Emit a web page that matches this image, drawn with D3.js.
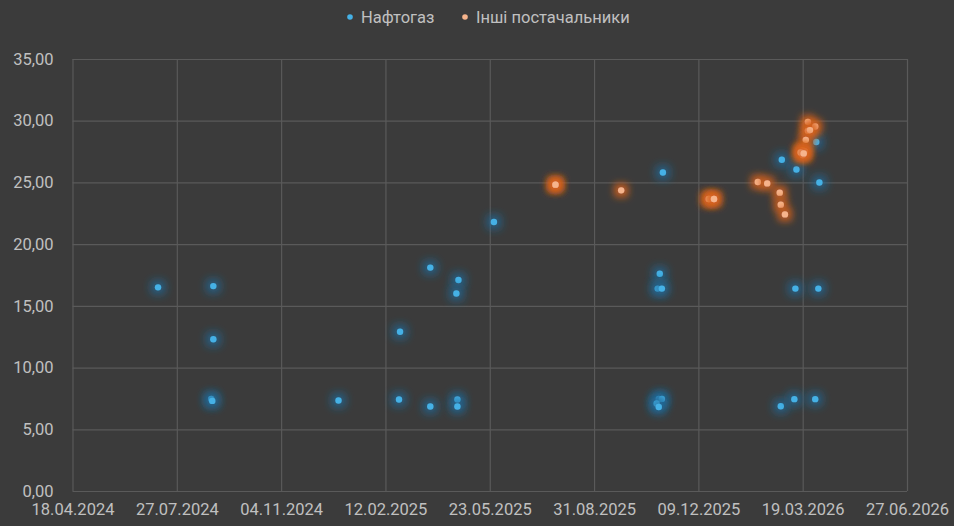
<!DOCTYPE html>
<html>
<head>
<meta charset="utf-8">
<script src="https://cdn.jsdelivr.net/npm/d3@7"></script>
<style>
  html, body { margin: 0; padding: 0; background: #3b3b3b; }
  svg { display: block; }
  text { font-family: Roboto, "Noto Sans", sans-serif; fill: #c0c0c0; }
</style>
</head>
<body>
<svg id="chart" width="954" height="526"></svg>
<script>
// Нафтогаз
const naftogazDates = [
  '2024-07-09', '2024-08-31', '2024-08-31', '2024-08-29', '2024-08-30',
  '2024-12-29', '2025-02-25', '2025-02-26', '2025-03-27', '2025-03-27',
  '2025-04-23', '2025-04-21', '2025-04-22', '2025-04-22', '2025-05-27',
  '2025-11-05', '2025-11-02', '2025-10-31', '2025-11-04', '2025-11-01',
  '2025-11-04', '2025-10-30', '2025-11-01', '2026-02-27', '2026-03-13',
  '2026-04-04', '2026-03-12', '2026-04-03', '2026-02-26', '2026-03-11',
  '2026-03-31', '2026-04-01'
];
const naftogazValues = [
  16.5, 16.6, 12.3, 7.45, 7.3,
  7.33, 7.41, 12.9, 18.1, 6.85,
  17.1, 16.0, 7.41, 6.85, 21.8,
  25.8, 17.6, 16.4, 16.4, 7.46,
  7.46, 7.09, 6.81, 26.84, 26.05,
  25.0, 16.4, 16.4, 6.87, 7.44,
  7.44, 28.27
];

// Інші постачальники
const otherDates = [
  '2025-07-25', '2025-07-25', '2025-07-25', '2025-09-26',
  '2025-12-19', '2025-12-19', '2025-12-24', '2025-12-24',
  '2026-02-04', '2026-02-13', '2026-02-25', '2026-02-26', '2026-03-02',
  '2026-03-24', '2026-03-31', '2026-03-24', '2026-03-26', '2026-03-22',
  '2026-03-19', '2026-03-21', '2026-03-19', '2026-03-17', '2026-03-20'
];
const otherValues = [
  24.82, 24.82, 24.82, 24.36,
  23.66, 23.66, 23.66, 23.66,
  25.03, 24.92, 24.17, 23.2, 22.41,
  29.91, 29.53, 29.18, 29.24, 28.45,
  27.62, 27.51, 27.22, 27.43, 27.35
];

const seriesNames = ['Нафтогаз', 'Інші постачальники'];
const yTicks = [0, 5, 10, 15, 20, 25, 30, 35];
const xStart = '2024-04-18';
const xStepDays = 100;
const xTickCount = 9;

const parse = d3.utcParse('%Y-%m-%d');
const fmtDate = d3.utcFormat('%d.%m.%Y');
const fmtNum = (v) => v.toFixed(2).replace('.', ',');

const svg = d3.select('#chart');
const margin = { top: 59, left: 72.5, right: 47, bottom: 35 };
const width = 954 - margin.left - margin.right;
const height = 526 - margin.top - margin.bottom;

const start = parse(xStart);
const xTicks = d3.range(xTickCount).map((i) => d3.utcDay.offset(start, i * xStepDays));

const xScale = d3.scaleUtc()
  .domain([xTicks[0], xTicks[xTicks.length - 1]])
  .range([0, width]);
const yScale = d3.scaleLinear()
  .domain([0, 35])
  .range([height, 0]);

// glow filters
const defs = svg.append('defs');
function addGlow(id, color, opacity, dilate, blur) {
  const f = defs.append('filter')
    .attr('id', id)
    .attr('x', '-400%').attr('y', '-400%')
    .attr('width', '900%').attr('height', '900%');
  f.append('feMorphology').attr('in', 'SourceAlpha')
    .attr('operator', 'dilate').attr('radius', dilate).attr('result', 'd');
  f.append('feGaussianBlur').attr('in', 'd')
    .attr('stdDeviation', blur).attr('result', 'b');
  f.append('feFlood').attr('flood-color', color)
    .attr('flood-opacity', opacity).attr('result', 'c');
  f.append('feComposite').attr('in', 'c').attr('in2', 'b')
    .attr('operator', 'in').attr('result', 'g');
  const m = f.append('feMerge');
  m.append('feMergeNode').attr('in', 'g');
  m.append('feMergeNode').attr('in', 'SourceGraphic');
}
addGlow('glow-blue', '#1f6a9a', 0.75, 4, 4);
addGlow('glow-orange', '#d8621c', 0.8, 3.5, 3.8);

const g = svg.append('g')
  .attr('transform', 'translate(' + margin.left + ',' + margin.top + ')');

// Grid + axes
const xAxis = d3.axisBottom(xScale)
  .tickValues(xTicks)
  .tickSize(-height)
  .tickPadding(12)
  .tickFormat(fmtDate);
const yAxis = d3.axisLeft(yScale)
  .tickValues(yTicks)
  .tickSize(-width)
  .tickPadding(19)
  .tickFormat(fmtNum);

const gx = g.append('g')
  .attr('transform', 'translate(0,' + height + ')')
  .call(xAxis);
const gy = g.append('g').call(yAxis);

[gx, gy].forEach((a) => {
  a.select('.domain').remove();
  a.selectAll('.tick line').attr('stroke', '#5a5a5a').attr('stroke-width', 1.2);
  a.selectAll('.tick text')
    .style('font-family', 'Roboto, "Noto Sans", sans-serif')
    .style('font-size', '16.5px')
    .attr('fill', '#c4c4c4');
});
gx.selectAll('.tick text').attr('dy', '0.71em');

// Points
function drawSeries(dates, values, fill, filterId) {
  const data = dates.map((d, i) => ({ date: parse(d), value: values[i] }));
  g.append('g')
    .selectAll('circle')
    .data(data)
    .enter()
    .append('circle')
    .attr('cx', (d) => xScale(d.date))
    .attr('cy', (d) => yScale(d.value))
    .attr('r', 3.2)
    .attr('fill', fill)
    .attr('filter', 'url(#' + filterId + ')');
}
drawSeries(naftogazDates, naftogazValues, '#45b1e6', 'glow-blue');
drawSeries(otherDates, otherValues, '#f6b48c', 'glow-orange');

// Legend
const legend = svg.append('g').attr('transform', 'translate(0,17)');
const legendItems = [
  { name: seriesNames[0], color: '#45b1e6', x: 350 },
  { name: seriesNames[1], color: '#f6b48c', x: 465 },
];
legendItems.forEach((it) => {
  legend.append('circle')
    .attr('cx', it.x).attr('cy', 0).attr('r', 2.8)
    .attr('fill', it.color);
  legend.append('text')
    .attr('x', it.x + 11).attr('y', 0)
    .attr('dy', '0.35em')
    .style('font-size', '16.5px')
    .attr('fill', '#c4c4c4')
    .text(it.name);
});
</script>
</body>
</html>
